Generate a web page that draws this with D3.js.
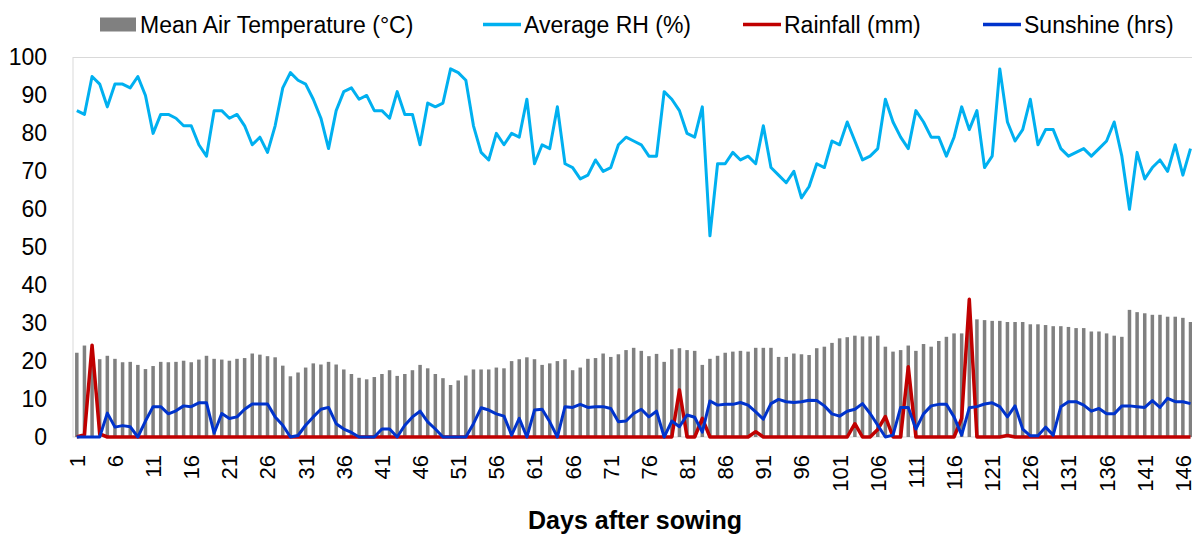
<!doctype html>
<html lang="en">
<head>
    <meta charset="utf-8">
    <title>Weather during the crop season</title>
    <script src="https://d3js.org/d3.v7.min.js"></script>
    <style>
        body { margin: 0; background: #fff; }
        svg  { display: block; font-family: "Liberation Sans", Arial, sans-serif; }
    </style>
</head>
<body>
<script>
    // Days after sowing (the chart is cut off just after day 147)
    const days = d3.range(1, 148);
    const dayTicks = days.filter((d, i) => i % 5 === 0);
    const yTicks = [0, 10, 20, 30, 40, 50, 60, 70, 80, 90, 100];

    // Mean Air Temperature (°C)
    const temperature = [
        22.2, 24.1, 23, 20.5, 21.4, 20.6, 19.7, 19.8, 19, 17.9,
        18.7, 19.8, 19.7, 19.8, 20.1, 19.7, 20.4, 21.4, 20.6, 20.4,
        20.1, 20.6, 20.8, 22, 21.7, 21.3, 21, 18.8, 16, 17,
        18.3, 19.4, 19.1, 19.8, 19.1, 17.8, 16.6, 15.6, 15.2, 15.8,
        16.6, 17.6, 16.1, 16.6, 17.6, 19, 18.1, 16.6, 15.5, 13.7,
        14.9, 16.2, 17.8, 17.8, 17.8, 18.3, 18.1, 20, 20.5, 21,
        20.5, 19, 19.4, 20, 20.5, 17.6, 18.3, 20.6, 20.8, 22,
        21.1, 21.8, 22.9, 23.5, 22.7, 21.3, 21.9, 19.8, 23.1, 23.4,
        22.9, 22.7, 19, 20.6, 21.4, 22.2, 22.5, 22.7, 22.5, 23.5,
        23.5, 23.5, 21.1, 21.1, 22, 21.8, 21.6, 23.4, 23.8, 24.8,
        26, 26.3, 26.7, 26.5, 26.5, 26.7, 23.8, 22.5, 22.9, 24.1,
        22.7, 24.5, 23.8, 25.3, 26.4, 27.3, 27.3, 28.5, 31, 30.8,
        30.6, 30.6, 30.3, 30.3, 30.3, 29.7, 29.7, 29.5, 29.2, 29.2,
        29, 28.7, 28.7, 27.8, 27.8, 27.3, 26.7, 26.4, 33.5, 32.9,
        32.6, 32.2, 32.2, 31.7, 31.7, 31.4, 30.3
    ];

    // Average RH (%)
    const humidity = [
        86, 85, 95, 93, 87, 93, 93, 92, 95, 90,
        80, 85, 85, 84, 82, 82, 77, 74, 86, 86,
        84, 85, 82, 77, 79, 75, 82, 92, 96, 94,
        93, 89, 84, 76, 86, 91, 92, 89, 90, 86,
        86, 84, 91, 85, 85, 77, 88, 87, 88, 97,
        96, 94, 82, 75, 73, 80, 77, 80, 79, 89,
        72, 77, 76, 87, 72, 71, 68, 69, 73, 70,
        71, 77, 79, 78, 77, 74, 74, 91, 89, 86,
        80, 79, 87, 53, 72, 72, 75, 73, 74, 72,
        82, 71, 69, 67, 70, 63, 66, 72, 71, 78,
        77, 83, 78, 73, 74, 76, 89, 83, 79, 76,
        86, 83, 79, 79, 74, 79, 87, 81, 86, 71,
        74, 97, 83, 78, 81, 89, 77, 81, 81, 76,
        74, 75, 76, 74, 76, 78, 83, 74, 60, 75,
        68, 71, 73, 70, 77, 69, 76
    ];

    // Rainfall (mm)
    const rainfall = [
        0, 0.6, 24.2, 0.8, 0, 0, 0, 0, 0, 0,
        0, 0, 0, 0, 0, 0, 0, 0, 0, 0,
        0, 0, 0, 0, 0, 0, 0, 0, 0, 0,
        0, 0, 0, 0, 0, 0, 0, 0, 0, 0,
        0, 0, 0, 0, 0, 0, 0, 0, 0, 0,
        0, 0, 0, 0, 0, 0, 0, 0, 0, 0,
        0, 0, 0, 0, 0, 0, 0, 0, 0, 0,
        0, 0, 0, 0, 0, 0, 0, 0, 0, 12.4,
        0, 0, 4.9, 0, 0, 0, 0, 0, 0, 1.4,
        0, 0, 0, 0, 0, 0, 0, 0, 0, 0,
        0, 0, 3.5, 0, 0, 2, 5.4, 0, 0, 18.5,
        0, 0, 0, 0, 0, 0, 4.9, 36.3, 0, 0,
        0, 0, 0.4, 0, 0, 0, 0, 0, 0, 0,
        0, 0, 0, 0, 0, 0, 0, 0, 0, 0,
        0, 0, 0, 0, 0, 0, 0
    ];

    // Sunshine (hrs)
    const sunshine = [
        0, 0, 0, 0, 6.3, 2.6, 3, 2.7, 0, 4.2,
        8, 8, 6.1, 6.9, 8.2, 8, 9, 9, 1, 6.2,
        4.9, 5.3, 7.3, 8.7, 8.7, 8.7, 5.3, 3.1, 0, 0.4,
        3.1, 5.3, 7.3, 7.8, 3.5, 2.1, 1.2, 0, 0, 0,
        2.1, 2.1, 0, 3.1, 5.3, 6.8, 4, 2.1, 0, 0,
        0, 0, 3.5, 7.7, 7.1, 6.1, 5.5, 0.5, 4.9, 0,
        7.1, 7.3, 4, 0, 8, 7.8, 8.6, 7.8, 8, 8,
        7.5, 4, 4.2, 6.2, 7.3, 5.3, 6.8, 0, 4.2, 2.7,
        5.8, 5.2, 1.3, 9.5, 8.4, 8.6, 8.6, 9.1, 8.4, 6.6,
        4.7, 8.8, 9.9, 9.3, 9.1, 9.3, 9.7, 9.6, 8.2, 6.1,
        5.5, 6.8, 7.3, 8.8, 6.2, 3.1, 0, 0.5, 7.8, 7.8,
        2.1, 6.1, 8.2, 8.6, 8.6, 5.3, 0.5, 7.7, 8, 8.7,
        9, 8, 5.3, 8.2, 2.1, 0.3, 0.3, 2.6, 0.5, 8,
        9.3, 9.3, 8.4, 6.8, 7.5, 6.1, 6.1, 8.2, 8.2, 8,
        7.8, 9.6, 7.8, 10.2, 9.3, 9.3, 8.8
    ];

    const seriesNames = ["Mean Air Temperature (°C)", "Average RH (%)", "Rainfall (mm)", "Sunshine (hrs)"];
    const seriesColors = ["#808080", "#00B0F0", "#C00000", "#0033CC"];

    function drawChart()
    {
        // Set Dimensions
        const width  = 1192;  const height = 534;
        const left   = 73;    const top    = 57.5;
        const bottom = 437;
        const step   = 7.628;

        const svg = d3.select("body")
            .append("svg")
            .attr("width", width)
            .attr("height", height);

        // X (categories) - the range runs past the right edge like the original
        const x = d3.scaleBand()
            .domain(days)
            .range([left, left + step * days.length])
            .paddingInner(0.54)
            .paddingOuter(0.27);
        const cx = d => x(d) + x.bandwidth() / 2;

        const y = d3.scaleLinear()
            .domain([0, 100])
            .range([bottom, top]);

        // plot area border
        svg.append("rect")
            .attr("x", left)
            .attr("y", top)
            .attr("width", width)
            .attr("height", bottom - top)
            .attr("fill", "none")
            .attr("stroke", "#d9d9d9")
            .attr("stroke-width", 1);

        // temperature bars
        svg.append("g")
            .selectAll("rect")
            .data(days)
            .join("rect")
            .attr("x", d => x(d))
            .attr("y", (d, i) => y(temperature[i]))
            .attr("width", x.bandwidth())
            .attr("height", (d, i) => y(0) - y(temperature[i]))
            .attr("fill", seriesColors[0]);

        // lines
        const lineData = [humidity, rainfall, sunshine];
        const widths = [3, 3.5, 3];
        lineData.forEach((vals, k) => {
            svg.append("path")
                .datum(days)
                .attr("fill", "none")
                .attr("stroke", seriesColors[k + 1])
                .attr("stroke-width", widths[k])
                .attr("stroke-linejoin", "round")
                .attr("d", d3.line()
                    .x(d => cx(d))
                    .y((d, i) => y(vals[i]))
                );
        });

        // Y axis
        const yAxis = svg.append("g")
            .attr("transform", `translate(${left},0)`)
            .call(d3.axisLeft(y).tickValues(yTicks).tickSize(0).tickPadding(26));
        yAxis.select(".domain").remove();
        yAxis.selectAll("text")
            .attr("fill", "#000")
            .style("font-size", "23px")
            .style("font-family", "Liberation Sans, Arial, sans-serif");

        // X axis
        const xAxis = svg.append("g")
            .attr("transform", `translate(0,${bottom})`)
            .call(d3.axisBottom(x).tickValues(dayTicks).tickSize(0));
        xAxis.select(".domain").remove();
        xAxis.selectAll("text")
            .attr("transform", "rotate(-90)")
            .attr("x", -18)
            .attr("y", 0)
            .attr("dy", "0.36em")
            .attr("fill", "#000")
            .style("text-anchor", "end")
            .style("font-size", "22px")
            .style("font-family", "Liberation Sans, Arial, sans-serif");

        // axis title
        svg.append("text")
            .attr("x", 635)
            .attr("y", 529)
            .attr("text-anchor", "middle")
            .style("font-size", "25px")
            .style("font-weight", "bold")
            .text("Days after sowing");

        // Legend
        const legendX = [100, 483, 743, 983];
        const legendY = 24.5;
        const legend = svg.append("g");
        seriesNames.forEach((name, i) => {
            if (i === 0) {
                legend.append("rect")
                    .attr("x", legendX[i])
                    .attr("y", legendY - 7)
                    .attr("width", 36)
                    .attr("height", 14)
                    .attr("fill", seriesColors[i]);
            } else {
                legend.append("line")
                    .attr("x1", legendX[i])
                    .attr("x2", legendX[i] + 38)
                    .attr("y1", legendY)
                    .attr("y2", legendY)
                    .attr("stroke", seriesColors[i])
                    .attr("stroke-width", 3.5);
            }
            legend.append("text")
                .attr("x", legendX[i] + (i === 0 ? 40 : 41))
                .attr("y", legendY)
                .attr("dy", "0.36em")
                .style("font-size", "23px")
                .text(name);
        });
    }

    drawChart();
</script>
</body>
</html>
